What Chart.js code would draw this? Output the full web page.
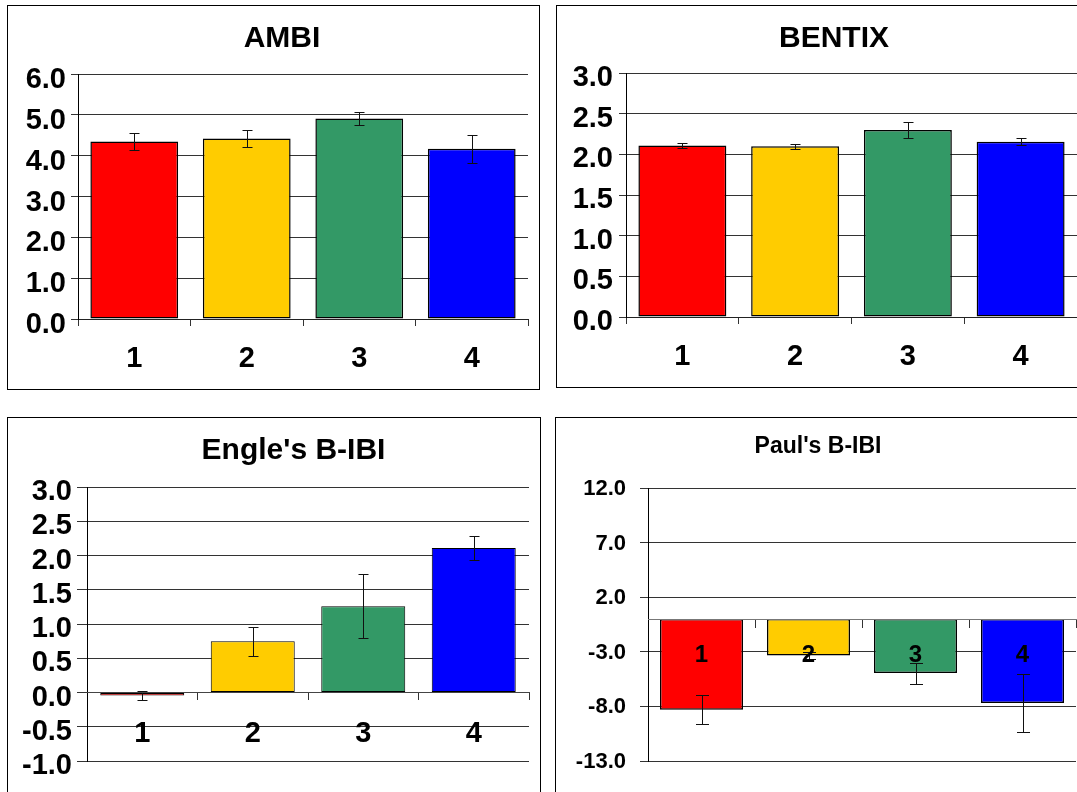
<!DOCTYPE html>
<html>
<head>
<meta charset="utf-8">
<script src="https://cdn.jsdelivr.net/npm/chart.js@4.4.1/dist/chart.umd.min.js"></script>
<style>
  html, body { margin: 0; padding: 0; background: #fff; }
  body { width: 1077px; height: 792px; overflow: hidden; position: relative; }
  .panel { position: absolute; border: 1px solid #000; box-sizing: border-box; background: #fff; }
  canvas { position: absolute; }
</style>
</head>
<body>
<div class="panel" style="left:7px;top:5px;width:533px;height:385px"></div>
<div class="panel" style="left:556px;top:5px;width:580px;height:383px"></div>
<div class="panel" style="left:7px;top:417px;width:534px;height:420px"></div>
<div class="panel" style="left:555px;top:417px;width:580px;height:420px"></div>

<canvas id="ambi" width="530" height="382" style="left:8px;top:6px"></canvas>
<canvas id="bentix" width="540" height="380" style="left:557px;top:6px"></canvas>
<canvas id="engle" width="531" height="383" style="left:8px;top:418px"></canvas>
<canvas id="paul" width="540" height="383" style="left:556px;top:418px"></canvas>

<script>
// Station groups on the category axis
const categories = ['1', '2', '3', '4'];

// Index means and their error half-widths per group
const ambiMean   = [4.35, 4.42, 4.91, 4.17];
const ambiErr    = [0.21, 0.21, 0.17, 0.34];
const bentixMean = [2.11, 2.10, 2.30, 2.155];
const bentixErr  = [0.03, 0.03, 0.095, 0.045];
const engleMean  = [-0.045, 0.75, 1.26, 2.11];
const engleErr   = [0.07, 0.21, 0.47, 0.17];
const paulMean   = [-8.3, -3.33, -4.95, -7.68];
const paulErr    = [1.35, 0.3, 0.97, 2.64];

// Value axis: [min, max, step]
const ambiAxis   = [0, 6, 1];
const bentixAxis = [0, 3, 0.5];
const engleAxis  = [-1, 3, 0.5];
const paulAxis   = [-13, 12, 5];

const FONT = "'Liberation Sans', Arial, Helvetica, sans-serif";
const barColors = ['#FF0000', '#FFCC00', '#339966', '#0000FF'];

// Draws vertical error bars with caps on each bar
const errorBars = {
  id: 'errorBars',
  afterDatasetsDraw(chart, args, opts) {
    const ctx = chart.ctx;
    const yScale = chart.scales.y;
    chart.data.datasets.forEach((ds, di) => {
      if (!ds.errors) return;
      const meta = chart.getDatasetMeta(di);
      ctx.save();
      ctx.strokeStyle = opts.color;
      ctx.lineWidth = opts.width;
      meta.data.forEach((bar, i) => {
        const v = ds.data[i], e = ds.errors[i];
        const x = Math.round(bar.x) + 0.5;
        const yt = Math.round(yScale.getPixelForValue(v + e)) + 0.5;
        const yb = Math.round(yScale.getPixelForValue(v - e)) + 0.5;
        const h = opts.cap / 2;
        ctx.beginPath();
        ctx.moveTo(x, yt); ctx.lineTo(x, yb);
        ctx.moveTo(x - h, yt); ctx.lineTo(x + h, yt);
        ctx.moveTo(x - h, yb); ctx.lineTo(x + h, yb);
        ctx.stroke();
      });
      ctx.restore();
    });
  }
};

// Moves the title block sideways by a fixed number of pixels
const titleShift = {
  id: 'titleShift',
  afterLayout(chart, args, opts) {
    const t = chart.titleBlock;
    if (t && opts.dx) { t.left += opts.dx; t.right += opts.dx; }
  }
};

function panelChart(id, s) {
  return new Chart(document.getElementById(id), {
    type: 'bar',
    data: {
      labels: categories,
      datasets: [{
        data: s.values,
        errors: s.errors,
        backgroundColor: barColors,
        borderColor: '#000',
        borderWidth: s.barLine,
        borderSkipped: false,
        barPercentage: s.barPct,
        categoryPercentage: 1
      }]
    },
    plugins: [errorBars, titleShift],
    options: {
      responsive: false,
      animation: false,
      events: [],
      layout: { padding: s.pad },
      plugins: {
        legend: { display: false },
        tooltip: { enabled: false },
        title: {
          display: true,
          text: s.title,
          color: '#000',
          font: { family: FONT, size: s.titleSize, weight: 'bold', lineHeight: 1.2 },
          padding: { top: s.titlePad[0], bottom: s.titlePad[1] }
        },
        titleShift: { dx: s.titleDx },
        errorBars: { color: '#111', width: 1, cap: s.cap }
      },
      scales: {
        x: {
          position: s.xPos,
          grid: { display: true, drawOnChartArea: false, drawTicks: true, tickLength: s.xTick, color: '#333', offset: true },
          border: { display: true, color: s.zeroColor, width: 1, z: s.labelZ },
          ticks: { color: '#000', font: { family: FONT, size: s.xFont, weight: 'bold' }, padding: s.xPad, z: s.labelZ, maxRotation: 0, autoSkip: false },
          afterFit(sc) { sc.height = s.xh; }
        },
        y: {
          min: s.axis[0],
          max: s.axis[1],
          ticks: {
            stepSize: s.axis[2],
            autoSkip: false,
            callback: v => Number(v).toFixed(1),
            color: '#000',
            font: { family: FONT, size: s.yFont, weight: 'bold' },
            padding: s.yPad,
            labelOffset: s.yOff
          },
          grid: { color: '#333', lineWidth: 1, drawTicks: true, tickLength: s.yTick },
          border: { display: true, color: '#000', width: 1 },
          afterFit(sc) { sc.width = s.yw; }
        }
      }
    }
  });
}

panelChart('ambi', {
  values: ambiMean, errors: ambiErr, axis: ambiAxis, title: 'AMBI',
  titleSize: 30, titlePad: [14.5, 17.5], titleDx: 14,
  pad: { left: 0, right: 10, top: 0, bottom: 0 },
  yw: 70, xh: 69, yTick: 7, yPad: 5, yOff: 6, yFont: 29,
  xPos: 'bottom', xTick: 7, xPad: 16, xFont: 29, labelZ: 0, zeroColor: '#222',
  barPct: 0.78, barLine: 1.5, cap: 10
});

panelChart('bentix', {
  values: bentixMean, errors: bentixErr, axis: bentixAxis, title: 'BENTIX',
  titleSize: 30, titlePad: [15, 16], titleDx: 17,
  pad: { left: 0, right: 20, top: 0, bottom: 0 },
  yw: 69, xh: 69, yTick: 7, yPad: 6, yOff: 5, yFont: 29,
  xPos: 'bottom', xTick: 7, xPad: 16, xFont: 29, labelZ: 0, zeroColor: '#222',
  barPct: 0.78, barLine: 1.5, cap: 10
});

panelChart('engle', {
  values: engleMean, errors: engleErr, axis: engleAxis, title: "Engle's B-IBI",
  titleSize: 30, titlePad: [15, 18], titleDx: 25,
  pad: { left: 0, right: 10, top: 0, bottom: 40 },
  yw: 79, xh: 10, yTick: 10, yPad: 5, yOff: 5, yFont: 29,
  xPos: { y: 0 }, xTick: 7, xPad: 17, xFont: 29, labelZ: 1, zeroColor: '#444',
  barPct: 0.76, barLine: 1, cap: 10
});

panelChart('paul', {
  values: paulMean, errors: paulErr, axis: paulAxis, title: "Paul's B-IBI",
  titleSize: 23, titlePad: [14.7, 27.7], titleDx: 2,
  pad: { left: 0, right: 20, top: 0, bottom: 40 },
  yw: 92, xh: 10, yTick: 8, yPad: 14, yOff: 1, yFont: 22,
  xPos: { y: 0 }, xTick: 8, xPad: 14, xFont: 24, labelZ: 1, zeroColor: '#777',
  barPct: 0.776, barLine: 1.5, cap: 13
});
</script>
</body>
</html>
